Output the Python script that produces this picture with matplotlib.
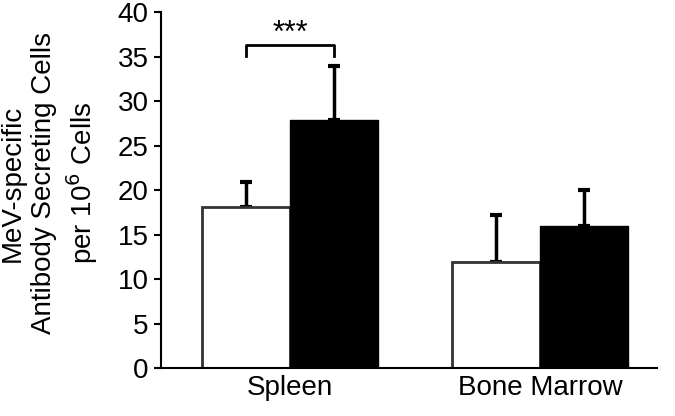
import matplotlib
matplotlib.use("Agg")
import matplotlib.pyplot as plt
import numpy as np

plt.rcParams['font.family'] = ['Liberation Sans', 'DejaVu Sans']

categories = ["Spleen", "Bone Marrow"]
white_vals = [18.1, 11.9]
white_err = [2.8, 5.3]
black_vals = [27.9, 16.0]
black_err = [6.0, 4.0]
yticks = [0, 5, 10, 15, 20, 25, 30, 35, 40]

fs = 20
fig = plt.figure(figsize=(6.75, 4.16), dpi=100)
ax = fig.add_axes([0.2385, 0.1154, 0.973 - 0.2385, 0.971 - 0.1154])

x = np.arange(len(categories))
w = 0.352
ax.bar(x - w/2, white_vals, w, color='white', edgecolor='#333333', linewidth=2, zorder=2)
ax.bar(x + w/2, black_vals, w, color='black', edgecolor='black', linewidth=1, zorder=2)
ax.errorbar(x - w/2, white_vals, yerr=[np.zeros(2), white_err], fmt='none',
            ecolor='black', elinewidth=2.5, capsize=4, capthick=3, zorder=1)
ax.errorbar(x + w/2, black_vals, yerr=[np.zeros(2), black_err], fmt='none',
            ecolor='black', elinewidth=2.5, capsize=4, capthick=3, zorder=1)

# significance bracket
bx0, bx1 = x[0] - w/2, x[0] + w/2
ax.plot([bx0, bx0, bx1, bx1], [35.1, 36.3, 36.3, 35.1], color='black', lw=2, clip_on=False)
ax.text((bx0 + bx1) / 2, 36.6, "***", ha='center', va='baseline', fontsize=22, clip_on=False)

ax.set_xlim(-0.516, 1.468)
ax.set_ylim(0, 40)
ax.set_yticks(yticks)
ax.set_xticks(x)
ax.set_xticklabels(categories, fontsize=fs)
ax.tick_params(axis='y', labelsize=fs, direction='out', length=5, width=1.5, pad=4)
ax.tick_params(axis='x', length=0, pad=5)
for s in ['top', 'right']:
    ax.spines[s].set_visible(False)
ax.spines['left'].set_linewidth(1.5)
ax.spines['bottom'].set_linewidth(1.5)
ax.spines['bottom'].set_bounds(-0.528, 1.468)

ax.set_ylabel("MeV-specific\nAntibody Secreting Cells\nper 10$^6$ Cells", fontsize=fs,
              linespacing=1.25)
ax.yaxis.set_label_coords(-0.123, 0.52)

fig.savefig("out.png", dpi=100)
